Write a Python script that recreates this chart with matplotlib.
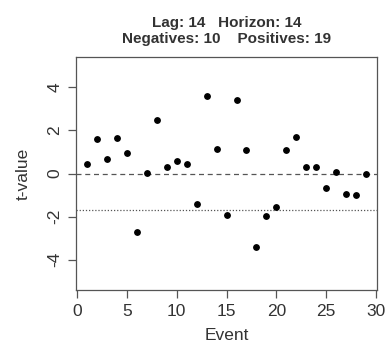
import matplotlib
matplotlib.use("Agg")
import matplotlib.pyplot as plt

events = list(range(1, 30))
tvalues = [0.42, 1.60, 0.68, 1.64, 0.96, -2.74, 0.01, 2.50, 0.28, 0.60,
           0.42, -1.43, 3.60, 1.16, -1.95, 3.41, 1.10, -3.41, -1.98, -1.58,
           1.07, 1.71, 0.31, 0.31, -0.68, 0.08, -0.96, -1.02, -0.01]
critical = -1.70
xticks = [0, 5, 10, 15, 20, 25, 30]
yticks = [-4, -2, 0, 2, 4]
title = "Lag: 14   Horizon: 14\nNegatives: 10    Positives: 19"

plt.rcParams['font.family'] = ['Liberation Sans', 'DejaVu Sans']
fig = plt.figure(figsize=(3.86, 3.47), dpi=100)
ax = fig.add_axes([0.197, 0.164, 0.780, 0.672])

gray = '#555555'
ax.axhline(0, color=gray, linestyle=(0, (4, 3)), linewidth=0.9)
ax.axhline(critical, color=gray, linestyle=(0, (1, 1.5)), linewidth=0.9)
ax.plot(events, tvalues, 'o', color='black', markersize=3.9, linestyle='none')

ax.set_xlim(-0.12, 30.12)
ax.set_ylim(-5.42, 5.42)
ax.set_xticks(xticks)
ax.set_yticks(yticks)
ax.set_yticklabels([str(v) for v in yticks], rotation=90, va='center')
for s in ax.spines.values():
    s.set_color(gray)
    s.set_linewidth(0.9)
ax.tick_params(direction='out', length=5.8, width=0.9, color=gray,
               labelsize=12.5, labelcolor='#333333', pad=4)
ax.set_xlabel("Event", fontsize=12.5, color='#333333', labelpad=7)
ax.set_ylabel("t-value", fontsize=12.5, color='#333333', labelpad=12)
ax.set_title(title, fontsize=11, fontweight='bold', color='#333333',
             pad=10, linespacing=1.2)

fig.savefig("out.png", dpi=100)
